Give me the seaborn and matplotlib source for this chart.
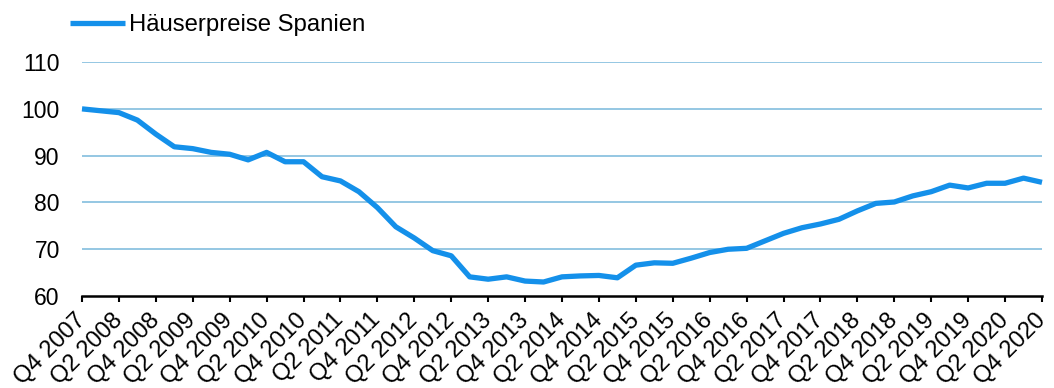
import matplotlib
matplotlib.use('Agg')
import matplotlib.pyplot as plt
import seaborn as sns
import numpy as np
import pandas as pd

# Quarterly house price index Spain, Q4 2007 = 100
prices = [100.0, 99.6, 99.2, 97.6, 94.6, 91.9, 91.5, 90.7, 90.3, 89.1,
          90.7, 88.7, 88.7, 85.5, 84.6, 82.3, 78.9, 74.8, 72.4, 69.7,
          68.6, 64.1, 63.6, 64.1, 63.2, 63.0, 64.1, 64.3, 64.4, 63.9,
          66.6, 67.1, 67.0, 68.1, 69.3, 70.0, 70.2, 71.8, 73.4, 74.6,
          75.4, 76.4, 78.2, 79.8, 80.1, 81.4, 82.3, 83.7, 83.1, 84.1,
          84.1, 85.2, 84.3]
tick_labels = ['Q4 2007', 'Q2 2008', 'Q4 2008', 'Q2 2009', 'Q4 2009', 'Q2 2010',
               'Q4 2010', 'Q2 2011', 'Q4 2011', 'Q2 2012', 'Q4 2012', 'Q2 2013',
               'Q4 2013', 'Q2 2014', 'Q4 2014', 'Q2 2015', 'Q4 2015', 'Q2 2016',
               'Q4 2016', 'Q2 2017', 'Q4 2017', 'Q2 2018', 'Q4 2018', 'Q2 2019',
               'Q4 2019', 'Q2 2020', 'Q4 2020']
y_ticks = [60, 70, 80, 90, 100, 110]
series_name = 'Häuserpreise Spanien'

sns.set_style('white')
plt.rcParams['font.family'] = ['Liberation Sans', 'DejaVu Sans']
plt.rcParams['text.color'] = 'black'
plt.rcParams['xtick.color'] = 'black'
plt.rcParams['ytick.color'] = 'black'

df = pd.DataFrame({'pos': np.arange(len(prices)), 'value': prices})

fig = plt.figure(figsize=(10.54, 3.88), dpi=100)
ax = fig.add_axes([0.0778, 0.237, 0.9108, 0.603])

sns.lineplot(data=df, x='pos', y='value', ax=ax, color='#1490EA',
             linewidth=3.8, label=series_name, legend=False,
             solid_capstyle='butt', clip_on=False, zorder=3)

ax.set_xlim(0, len(prices) - 1)
ax.set_ylim(60, 110)
ax.set_yticks(y_ticks)
ax.set_xticks(np.arange(0, len(prices), 2))
ax.set_xticklabels(tick_labels, rotation=45, ha='right', va='center',
                   rotation_mode='anchor')
ax.set_xlabel('')
ax.set_ylabel('')

# light blue horizontal grid
for v in y_ticks[1:]:
    ax.axhline(v, color='#8CC3E0', linewidth=1.3, zorder=1)

for s in ['left', 'right', 'top']:
    ax.spines[s].set_visible(False)
ax.spines['bottom'].set_color('black')
ax.spines['bottom'].set_linewidth(1.8)
ax.spines['bottom'].set_zorder(4)

ax.tick_params(axis='y', length=0, pad=16, labelsize=16.5, labelcolor='black')
ax.tick_params(axis='x', direction='out', length=4, width=1.5, color='black',
               labelsize=17, pad=11, bottom=True, labelcolor='black')

handles, labels = ax.get_legend_handles_labels()
fig.legend(handles, labels, loc='center left', bbox_to_anchor=(0.066, 0.935),
           frameon=False, fontsize=17.2, handlelength=2.3, handletextpad=0.2,
           borderpad=0, borderaxespad=0, labelcolor='black')

fig.savefig('out.png', dpi=100, facecolor='white')
